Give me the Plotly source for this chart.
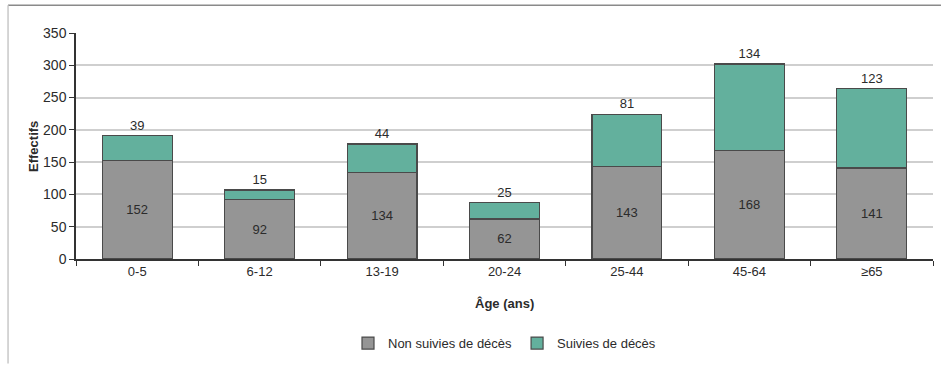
import plotly.graph_objects as go

# Age groups and counts
age_groups = ["0-5", "6-12", "13-19", "20-24", "25-44", "45-64", "≥65"]
non_suivies = [152, 92, 134, 62, 143, 168, 141]
suivies = [39, 15, 44, 25, 81, 134, 123]
y_ticks = [0, 50, 100, 150, 200, 250, 300, 350]

FONT = "Liberation Sans Narrow, Arial Narrow, Liberation Sans, sans-serif"
TXT = "#2b2b2b"

fig = go.Figure()
fig.add_trace(go.Bar(
    x=age_groups, y=non_suivies, name="Non suivies de décès",
    marker=dict(color="#959595", line=dict(color="#4a4a4a", width=1.2)),
    text=non_suivies, texttemplate="%{text}", textposition="inside",
    insidetextanchor="middle", textangle=0,
    textfont=dict(family=FONT, size=13, color=TXT),
))
fig.add_trace(go.Bar(
    x=age_groups, y=suivies, name="Suivies de décès",
    marker=dict(color="#63b09d", line=dict(color="#4a4a4a", width=1.2)),
    text=suivies, texttemplate="%{text}", textposition="outside", textangle=0,
    textfont=dict(family=FONT, size=13, color=TXT),
    cliponaxis=False,
))

fig.update_layout(
    barmode="stack",
    bargap=0.43,
    width=941, height=365,
    margin=dict(l=76, r=8, t=33, b=105),
    paper_bgcolor="white", plot_bgcolor="white",
    font=dict(family=FONT, size=13, color=TXT),
    uniformtext=dict(minsize=13, mode="show"),
    legend=dict(
        orientation="h", x=0.5, xanchor="center", y=-0.366, yanchor="middle",
        traceorder="normal",
        font=dict(family=FONT, size=13, color=TXT),
    ),
    xaxis=dict(
        showgrid=False, showline=True, linecolor="#333333", linewidth=1.5,
        ticks="outside", tickson="boundaries", ticklen=5, tickcolor="#333333",
        tickfont=dict(family=FONT, size=13, color=TXT),
    ),
    yaxis=dict(
        range=[0, 350], tickvals=y_ticks, showgrid=True, gridcolor="#cfcfcf",
        gridwidth=1.5, showline=True, linecolor="#333333", linewidth=1.5,
        ticks="outside", ticklen=5, tickcolor="#333333", zeroline=False,
        tickfont=dict(family=FONT, size=14, color=TXT),
    ),
    annotations=[
        dict(text="<b>Âge (ans)</b>", xref="paper", yref="paper",
             x=0.5, y=-0.198, xanchor="center", yanchor="middle",
             showarrow=False, font=dict(family=FONT, size=13, color=TXT)),
        dict(text="<b>Effectifs</b>", xref="paper", yref="paper",
             x=-0.0502, y=0.5, xanchor="center", yanchor="middle", textangle=-90,
             showarrow=False, font=dict(family=FONT, size=13, color=TXT)),
    ],
    shapes=[
        dict(type="line", xref="paper", yref="paper", x0=-0.0793, x1=1.0093,
             y0=1.1233, y1=1.1233, line=dict(color="#8a8a8a", width=1.5)),
        dict(type="line", xref="paper", yref="paper", x0=-0.0793, x1=-0.0793,
             y0=1.1233, y1=-0.4626, line=dict(color="#c8c8c8", width=1.5)),
    ],
)

fig.write_html("out.html")
